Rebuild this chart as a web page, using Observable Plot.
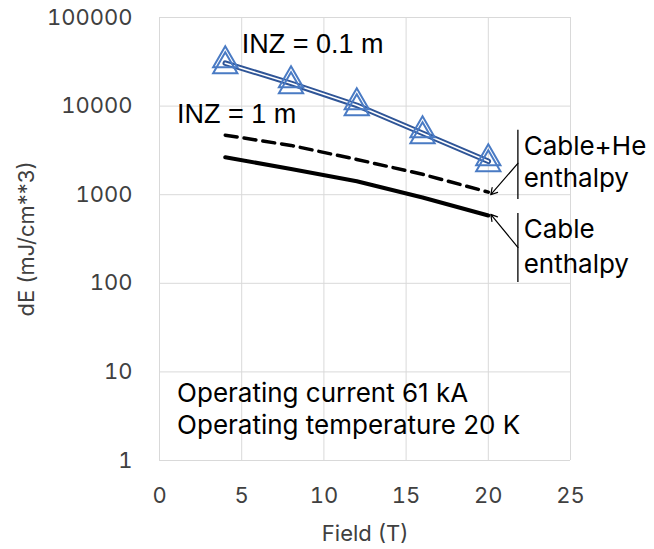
<!DOCTYPE html>
<html>
<head>
<meta charset="utf-8">
<script src="https://cdn.jsdelivr.net/npm/d3@7"></script>
<script src="https://cdn.jsdelivr.net/npm/@observablehq/plot@0.6"></script>
<style>
  html, body { margin: 0; padding: 0; background: #fff; }
  svg { display: block; }
</style>
</head>
<body>
<div id="chart"></div>
<script>
// ---- data ----
const fields = [4, 8, 12, 16, 20];                       // Field (T)
const inz01 = [30500, 18100, 10200, 4930, 2380];          // INZ = 0.1 m (blue, triangles)
const cableHe = [4700, 3600, 2500, 1700, 1070];           // Cable+He enthalpy (dashed)
const cable = [2650, 1950, 1420, 930, 583];               // Cable enthalpy (solid)
const xTicks = [0, 5, 10, 15, 20, 25];
const yTicks = [1, 10, 100, 1000, 10000, 100000];

// annotation texts and their anchors in data units
const notesArial = [
  {text: "INZ = 0.1 m", x: 5.0, y: 50000},
  {text: "INZ = 1 m", x: 1.07, y: 8080}
];
const notesSans = [
  {text: "Cable+He", x: 22.15, y: 3515},
  {text: "enthalpy", x: 22.15, y: 1528},
  {text: "Cable", x: 22.15, y: 405},
  {text: "enthalpy", x: 22.15, y: 163},
  {text: "Operating current 61 kA", x: 1.07, y: 5.75},
  {text: "Operating temperature 20 K", x: 1.07, y: 2.47}
];
const brackets = [
  {x: 21.8, y1: 5330, y2: 885},
  {x: 21.8, y1: 615, y2: 102}
];
const arrows = [
  {x1: 21.8, y1: 2260, x2: 20.15, y2: 1000},
  {x1: 21.8, y1: 254, x2: 20.15, y2: 600}
];

const rows = (ys) => fields.map((f, i) => ({x: f, y: ys[i]}));
const blue = rows(inz01), dashed = rows(cableHe), solid = rows(cable);

const chart = Plot.plot({
  width: 654,
  height: 549,
  marginLeft: 159,
  marginRight: 84,
  marginTop: 17,
  marginBottom: 89,
  style: {fontFamily: "Inter, 'Open Sans', sans-serif", fontSize: "22px", color: "#404040", background: "#fff"},
  x: {domain: [0, 25]},
  y: {type: "log", domain: [1, 100000]},
  marks: [
    Plot.gridX(xTicks, {stroke: "#d9d9d9", strokeOpacity: 1, strokeWidth: 1}),
    Plot.gridY(yTicks, {stroke: "#d9d9d9", strokeOpacity: 1, strokeWidth: 1}),
    Plot.axisX(xTicks, {tickSize: 0, tickPadding: 27, tickFormat: d => String(d), label: "Field (T)", labelAnchor: "center", labelArrow: "none", labelOffset: 80, fill: "#404040"}),
    Plot.axisY(yTicks, {tickSize: 0, tickPadding: 27, tickFormat: d => String(d), label: "dE (mJ/cm**3)", labelAnchor: "center", labelArrow: "none", labelOffset: 141, fill: "#404040"}),
    // curves
    Plot.line(solid, {x: "x", y: "y", stroke: "#000", strokeWidth: 4}),
    Plot.line(dashed, {x: "x", y: "y", stroke: "#000", strokeWidth: 3.5, strokeDasharray: "12,7"}),
    Plot.line(blue, {x: "x", y: "y", stroke: "#2F5597", strokeWidth: 5.5}),
    Plot.line(blue, {x: "x", y: "y", stroke: "#fff", strokeWidth: 1.6}),
    Plot.dot(blue, {x: "x", y: "y", symbol: "triangle", r: 9, stroke: "#4A7BC4", strokeWidth: 2, fill: "none", dy: -3}),
    Plot.dot(blue, {x: "x", y: "y", symbol: "triangle", r: 9, stroke: "#4A7BC4", strokeWidth: 2, fill: "none", dy: 3}),
    // annotations
    Plot.ruleX(brackets, {x: "x", y1: "y1", y2: "y2", stroke: "#000", strokeWidth: 1.3}),
    Plot.arrow(arrows, {x1: "x1", y1: "y1", x2: "x2", y2: "y2", stroke: "#000", strokeWidth: 1.2, headLength: 9, bend: 0}),
    Plot.text(notesArial, {x: "x", y: "y", text: "text", textAnchor: "start", fontFamily: "'Liberation Sans', Arial, sans-serif", fontSize: 27, fill: "#000"}),
    Plot.text(notesSans, {x: "x", y: "y", text: "text", textAnchor: "start", fontFamily: "Inter, 'Open Sans', sans-serif", fontSize: 26, fill: "#000"})
  ]
});
document.getElementById("chart").appendChild(chart);
</script>
</body>
</html>
